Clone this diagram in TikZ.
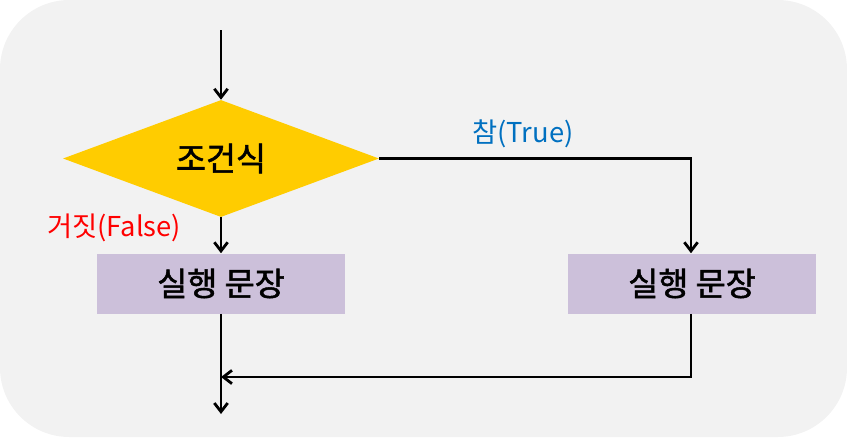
\documentclass[tikz,border=0pt]{standalone}
\usepackage{fontspec}
\setmainfont{Noto Sans CJK KR}
\newfontfamily\medfont{Noto Sans CJK KR}[FakeBold=1.6]
\usetikzlibrary{shapes.geometric,arrows.meta}
\definecolor{bgc}{HTML}{F2F2F2}
\definecolor{gold}{HTML}{FFCC00}
\definecolor{lav}{HTML}{CCC0DA}
\definecolor{tblue}{HTML}{0070C0}
\definecolor{fred}{HTML}{FF0000}
\begin{document}
\begin{tikzpicture}[x=0.75pt,y=-0.75pt,
  cond/.style={diamond,fill=gold,minimum width=237pt,minimum height=87.75pt,aspect=2.7,inner sep=0pt,font=\medfont\fontsize{24.5}{28}\selectfont},
  stmt/.style={rectangle,fill=lav,minimum width=186pt,minimum height=45pt,inner sep=0pt,font=\medfont\fontsize{24.5}{28}\selectfont},
  flow/.style={line width=2.1pt,-{Straight Barb[length=6.5pt,width=10pt,line width=2.1pt]}},
  plain/.style={line width=2.1pt},
  lbl/.style={font=\fontsize{20.5}{24}\selectfont,inner sep=0pt}]
\useasboundingbox (0,0) rectangle (847,437);
\fill[bgc,rounded corners=52pt] (0,0) rectangle (847,437);
\node[cond] (c) at (221,158.5) {조건식};
\node[stmt] (s1) at (221,283.5) {실행 문장};
\node[stmt] (s2) at (692,283.5) {실행 문장};
\coordinate (top) at (221,30);
\coordinate (bot) at (221,414);
\coordinate (tr) at (691,158.5);
\coordinate (br) at (691,377);
\coordinate (jn) at (221,377);
\draw[flow] (top) -- (c.north);
\draw[flow] (c.south) -- (s1.north);
\draw[flow] (c.east) -- (tr) -- (s2.north -| tr);
\draw[plain] (s1.south) -- (jn);
\draw[flow] (jn) -- (bot);
\draw[flow] (s2.south -| br) -- (br) -- (jn);
\node[lbl,text=tblue] (t) at (523,134) {참(True)};
\node[lbl,text=fred] (f) at (114,228) {거짓(False)};
\end{tikzpicture}
\end{document}
